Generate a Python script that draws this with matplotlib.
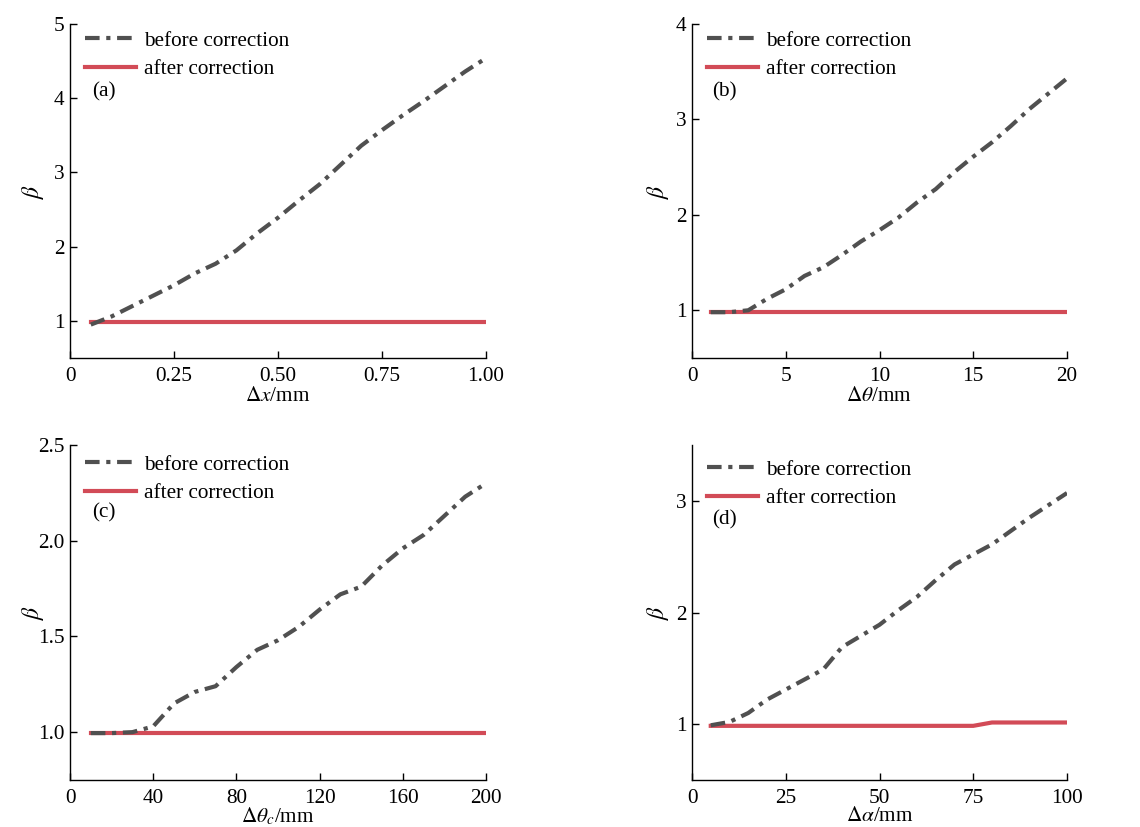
import matplotlib
matplotlib.use("Agg")
import matplotlib.pyplot as plt

plt.rcParams['font.family'] = ['Liberation Serif', 'DejaVu Serif']
plt.rcParams['mathtext.fontset'] = 'stix'

# (a)
xa = [0.05, 0.10, 0.15, 0.20, 0.25, 0.30, 0.35, 0.40, 0.45, 0.50,
      0.55, 0.60, 0.65, 0.70, 0.75, 0.80, 0.85, 0.90, 0.95, 1.00]
before_a = [0.95, 1.06, 1.20, 1.34, 1.48, 1.64, 1.77, 1.95, 2.18, 2.39,
            2.62, 2.84, 3.10, 3.36, 3.57, 3.77, 3.96, 4.16, 4.36, 4.54]
after_a = [0.98] * 20

# (b)
xb = list(range(1, 21))
before_b = [0.98, 0.98, 1.00, 1.12, 1.22, 1.36, 1.45, 1.58, 1.72, 1.84,
            1.97, 2.13, 2.27, 2.45, 2.61, 2.76, 2.93, 3.11, 3.27, 3.43]
after_b = [0.98] * 20

# (c)
xc = list(range(10, 201, 10))
before_c = [0.995, 0.995, 1.00, 1.03, 1.15, 1.21, 1.24, 1.34, 1.43, 1.48,
            1.55, 1.64, 1.72, 1.76, 1.87, 1.96, 2.03, 2.13, 2.23, 2.30]
after_c = [0.995] * 20

# (d)
xd = list(range(5, 101, 5))
before_d = [0.99, 1.02, 1.10, 1.22, 1.31, 1.40, 1.49, 1.69, 1.79, 1.89,
            2.02, 2.14, 2.29, 2.43, 2.52, 2.61, 2.73, 2.85, 2.96, 3.07]
after_d = [0.985] * 15 + [1.015] * 5

panels = [
    dict(x=xa, b=before_a, a=after_a, xlim=(0, 1.0), ylim=(0.5, 5),
         xt=[0, 0.25, 0.5, 0.75, 1.0], xtl=['0', '0.25', '0.50', '0.75', '1.00'],
         yt=[1, 2, 3, 4, 5], ytl=['1', '2', '3', '4', '5'],
         xl=r'$\Delta x$/mm', tag='(a)',
         pos=[70, 24, 486, 358], leg_y=1.024, tag_y=0.796, lp=1),
    dict(x=xb, b=before_b, a=after_b, xlim=(0, 20), ylim=(0.5, 4),
         xt=[0, 5, 10, 15, 20], xtl=['0', '5', '10', '15', '20'],
         yt=[1, 2, 3, 4], ytl=['1', '2', '3', '4'],
         xl=r'$\Delta\theta$/mm', tag='(b)',
         pos=[692, 24, 1067, 358], leg_y=1.024, tag_y=0.796, lp=1),
    dict(x=xc, b=before_c, a=after_c, xlim=(0, 200), ylim=(0.75, 2.5),
         xt=[0, 40, 80, 120, 160, 200], xtl=['0', '40', '80', '120', '160', '200'],
         yt=[1.0, 1.5, 2.0, 2.5], ytl=['1.0', '1.5', '2.0', '2.5'],
         xl=r'$\Delta\theta_c$/mm', tag='(c)',
         pos=[70, 445, 486, 780], leg_y=1.015, tag_y=0.797, lp=-2),
    dict(x=xd, b=before_d, a=after_d, xlim=(0, 100), ylim=(0.5, 3.5),
         xt=[0, 25, 50, 75, 100], xtl=['0', '25', '50', '75', '100'],
         yt=[1, 2, 3], ytl=['1', '2', '3'],
         xl=r'$\Delta\alpha$/mm', tag='(d)',
         pos=[692, 445, 1067, 780], leg_y=1.0, tag_y=0.776, lp=-1),
]

W, H = 1140, 827
fig = plt.figure(figsize=(W / 100, H / 100), dpi=100)

gray = '#505050'
red = '#d24b57'
fs = 15.3

for p in panels:
    l, t, r, b = p['pos']
    ax = fig.add_axes([l / W, 1 - b / H, (r - l) / W, (b - t) / H])
    ax.plot(p['x'], p['b'], color=gray, lw=3.0, dashes=(3.5, 1.6, 1.0, 1.6),
            label='before correction', zorder=3)
    ax.plot(p['x'], p['a'], color=red, lw=3.0, label='after correction', zorder=2)
    ax.set_xlim(*p['xlim'])
    ax.set_ylim(*p['ylim'])
    ax.set_xticks(p['xt'])
    ax.set_xticklabels(p['xtl'])
    ax.set_yticks(p['yt'])
    ax.set_yticklabels(p['ytl'])
    for s in ['top', 'right']:
        ax.spines[s].set_visible(False)
    for s in ['left', 'bottom']:
        ax.spines[s].set_linewidth(1.0)
    ax.tick_params(direction='in', length=5, width=1, labelsize=fs)
    ax.tick_params(axis='x', pad=6.5)
    ax.tick_params(axis='y', pad=4)
    ax.set_xlabel(p['xl'], fontsize=fs, labelpad=p['lp'])
    ax.set_ylabel(r'$\beta$', fontsize=17)
    ax.yaxis.set_label_coords(-0.057, 0.5)
    ax.legend(loc='upper left', bbox_to_anchor=(0.0, p['leg_y']), frameon=False,
              fontsize=fs, handlelength=2.4, handletextpad=0.4,
              labelspacing=0.4, borderaxespad=0.3)
    ax.text(0.053, p['tag_y'], p['tag'],
            transform=ax.transAxes, fontsize=fs, va='center', ha='left')

fig.savefig('out.png', dpi=100)
